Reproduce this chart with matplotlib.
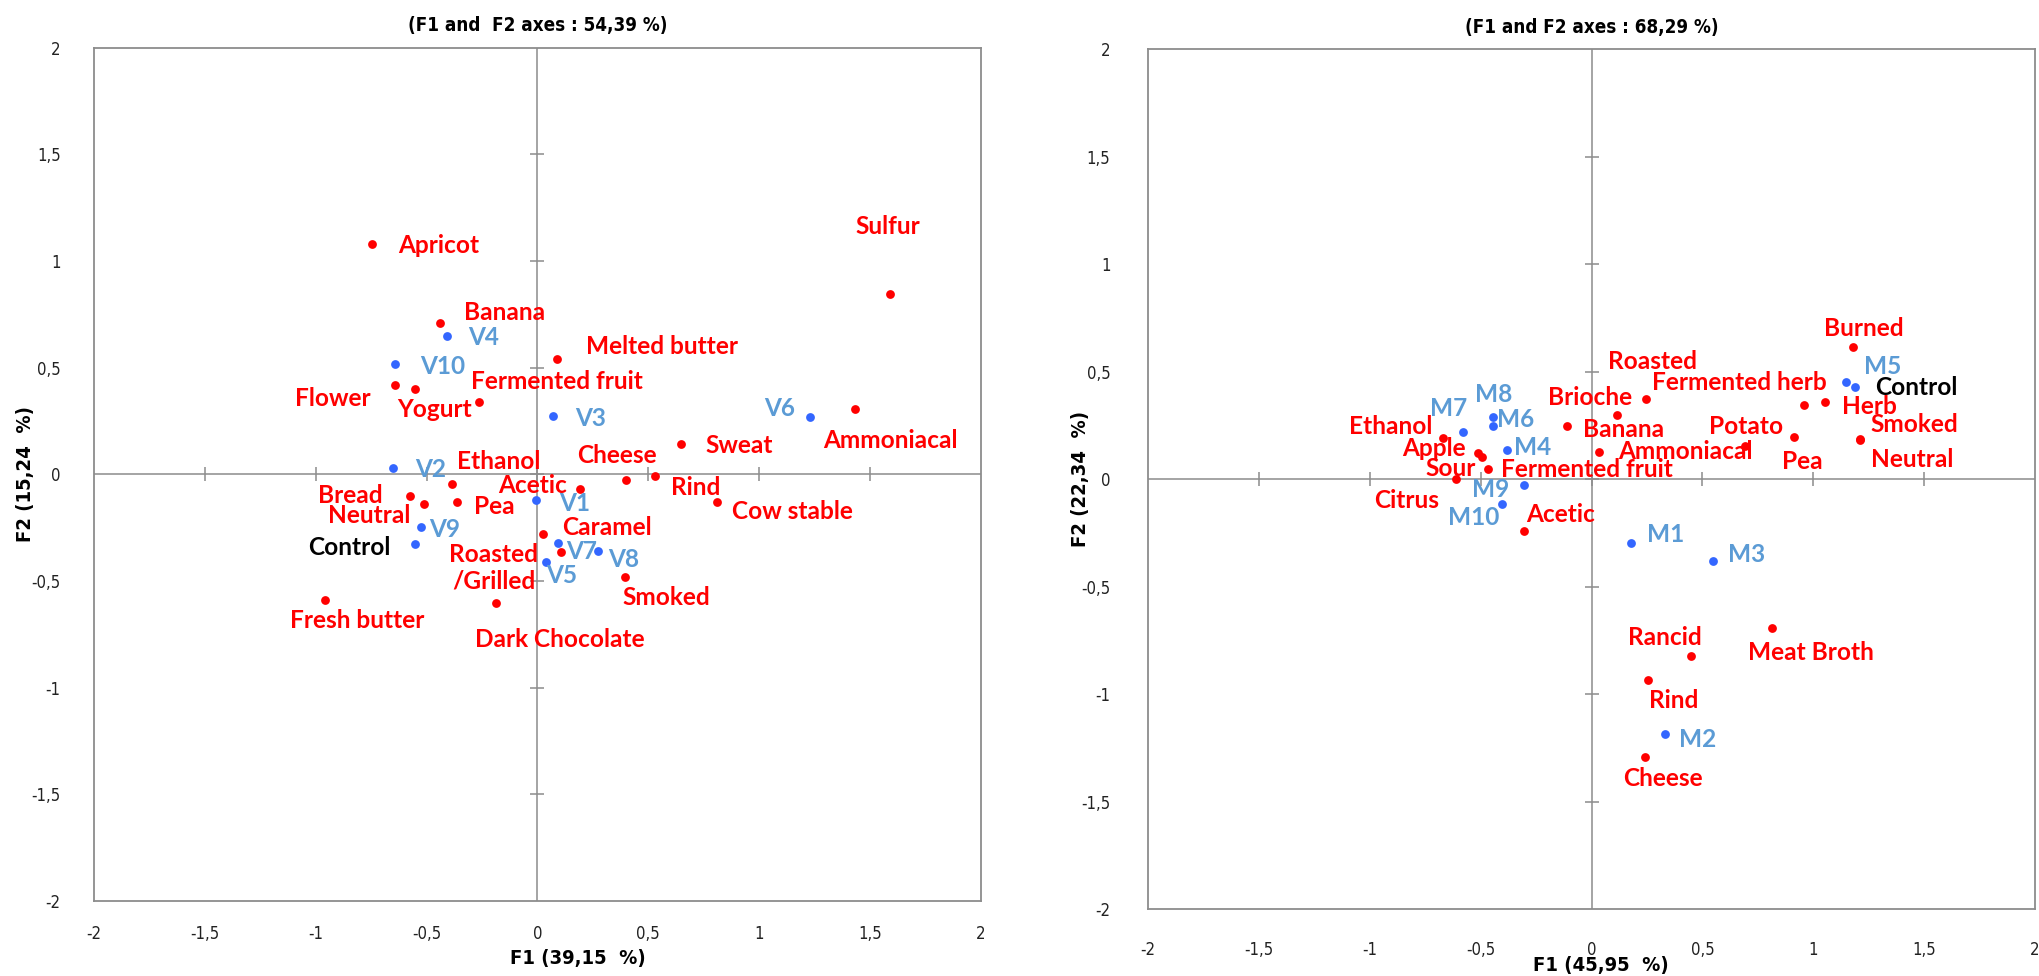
import matplotlib
matplotlib.use("Agg")
import matplotlib.pyplot as plt
from matplotlib.ticker import FuncFormatter, MultipleLocator

# ---- panel 1 : attributes (red) and samples (blue) ----
attr1_names = ["Apricot", "Banana", "Melted butter", "Fermented fruit", "Flower", "Yogurt",
               "Sulfur", "Ammoniacal", "Sweat", "Ethanol", "Cheese", "Rind", "Cow stable",
               "Acetic", "Bread", "Neutral", "Pea", "Caramel", "Roasted\n/Grilled", "Smoked",
               "Fresh butter", "Dark Chocolate"]
attr1_f1 = [-0.745, -0.439, 0.086, -0.266, -0.643, -0.553, 1.588, 1.434, 0.647, -0.387, 0.401,
            0.528, 0.811, 0.190, -0.574, -0.514, -0.364, 0.027, 0.108, 0.393, -0.957, -0.185]
attr1_f2 = [1.078, 0.711, 0.540, 0.338, 0.419, 0.401, 0.844, 0.305, 0.142, -0.044, -0.028,
            -0.006, -0.131, -0.069, -0.100, -0.139, -0.129, -0.280, -0.366, -0.482, -0.591, -0.605]

samp1_names = ["V1", "V2", "V3", "V4", "V5", "V6", "V7", "V8", "V9", "V10"]
samp1_f1 = [-0.005, -0.653, 0.070, -0.409, 0.039, 1.231, 0.093, 0.275, -0.526, -0.641]
samp1_f2 = [-0.120, 0.028, 0.273, 0.649, -0.411, 0.267, -0.323, -0.358, -0.246, 0.516]
ctrl1 = (-0.551, -0.327)

# ---- panel 2 ----
attr2_names = ["Burned", "Fermented herb", "Herb", "Smoked", "Neutral", "Potato", "Pea",
               "Roasted", "Brioche", "Banana", "Ammoniacal", "Fermented fruit", "Sour", "Apple",
               "Ethanol", "Citrus", "Acetic", "Meat Broth", "Rancid", "Rind", "Cheese"]
attr2_f1 = [1.177, 0.957, 1.055, 1.209, 1.212, 0.694, 0.911, 0.247, 0.117, -0.111, 0.032,
            -0.466, -0.494, -0.511, -0.670, -0.611, -0.306, 0.815, 0.450, 0.255, 0.239]
attr2_f2 = [0.616, 0.345, 0.361, 0.187, 0.180, 0.156, 0.198, 0.372, 0.299, 0.245, 0.125,
            0.048, 0.105, 0.121, 0.193, 0.000, -0.240, -0.693, -0.824, -0.936, -1.295]

samp2_names = ["M1", "M2", "M3", "M4", "M5", "M6", "M7", "M8", "M9", "M10"]
samp2_f1 = [0.179, 0.330, 0.549, -0.383, 1.149, -0.445, -0.579, -0.445, -0.306, -0.404]
samp2_f2 = [-0.297, -1.185, -0.383, 0.136, 0.450, 0.245, 0.221, 0.291, -0.029, -0.115]
ctrl2 = (1.187, 0.430)

titles = ["(F1 and  F2 axes : 54,39 %)", "(F1 and F2 axes : 68,29 %)"]
xlabels = ["F1 (39,15  %)", "F1 (45,95  %)"]
ylabels = ["F2 (15,24  %)", "F2 (22,34  %)"]
ticks = [-2, -1.5, -1, -0.5, 0, 0.5, 1, 1.5, 2]

# label offsets in pixels (text centre relative to the dot)
attr1_off = [(66, -1), (64, 10), (105, 13), (78, 21), (-62, -14), (20, -21),
             (-2, 68), (35, -31), (58, -1), (47, 22), (-9, 25), (41, -12), (75, -9),
             (-47, 4), (-60, 0), (-54, -11), (38, -5), (63, 7), (-68, -15), (42, -20),
             (32, -20), (63, -36)]
samp1_off = [(38, -4), (38, -1), (38, -2), (37, -2), (16, -13), (-31, 9), (24, -8),
             (25, -9), (24, -3), (47, -2)]
ctrl1_off = (-66, -3)

attr2_off = [(11, 18), (-64, 22), (44, -5), (55, 14), (52, -19), (1, 19), (9, -25),
             (6, 38), (-27, 17), (57, -3), (87, 1), (99, -1), (-31, -12), (-44, 5),
             (-52, 11), (-49, -21), (37, 16), (39, -24), (-26, 19), (26, -20), (18, -21)]
samp2_off = [(34, 8), (33, -6), (33, 7), (26, 2), (36, 16), (23, 7), (-14, 23),
             (1, 22), (-33, -4), (-28, -14)]
ctrl2_off = (62, -1)

RED = "#FF0000"
BLUE_DOT = "#3366FF"
BLUE_TXT = "#5B9BD5"
GRAY = "#8C8C8C"
LBL_FONT = dict(family=["Lato", "DejaVu Sans"], fontweight="bold", fontsize=17.6)
AX_FONT = dict(family=["DejaVu Sans"], fontstretch="condensed")

fig = plt.figure(figsize=(20.4, 9.76), dpi=100)
ax1 = fig.add_axes([0.04608, 0.07684, 0.43480, 0.87428])
ax2 = fig.add_axes([0.56275, 0.06865, 0.43480, 0.88084])

panels = [
    (ax1, attr1_names, attr1_f1, attr1_f2, attr1_off, samp1_names, samp1_f1, samp1_f2,
     samp1_off, ctrl1, ctrl1_off),
    (ax2, attr2_names, attr2_f1, attr2_f2, attr2_off, samp2_names, samp2_f1, samp2_f2,
     samp2_off, ctrl2, ctrl2_off),
]

comma = FuncFormatter(lambda v, p: f"{v:g}".replace(".", ","))

for i, (ax, an, ax_, ay, aoff, sn, sx, sy, soff, ctrl, coff) in enumerate(panels):
    ax.set_xlim(-2, 2)
    ax.set_ylim(-2, 2)
    for s in ax.spines.values():
        s.set_color(GRAY)
        s.set_linewidth(1.3)

    # zero axes with crossing tick marks
    ax.axhline(0, color=GRAY, lw=1.1, zorder=1)
    ax.axvline(0, color=GRAY, lw=1.1, zorder=1)
    inner = [t for t in ticks if -2 < t < 2]
    ax.plot(inner, [0] * len(inner), ls="none", marker="|", ms=10, mew=1.1, color=GRAY, zorder=1)
    ax.plot([0] * len(inner), inner, ls="none", marker="_", ms=10, mew=1.1, color=GRAY, zorder=1)

    ax.xaxis.set_major_locator(MultipleLocator(0.5))
    ax.yaxis.set_major_locator(MultipleLocator(0.5))
    ax.xaxis.set_major_formatter(comma)
    ax.yaxis.set_major_formatter(comma)
    ax.tick_params(length=0, labelsize=12, colors="#222222")
    ax.tick_params(axis="x", pad=17 if i == 0 else 23)
    ax.tick_params(axis="y", pad=24 if i == 0 else 27)
    for lab in ax.get_xticklabels() + ax.get_yticklabels():
        lab.set_family(AX_FONT["family"])
        lab.set_fontstretch("condensed")

    ax.scatter(ax_, ay, s=40, color=RED, linewidths=0, zorder=3)
    ax.scatter(sx, sy, s=40, color=BLUE_DOT, linewidths=0, zorder=3)
    ax.scatter([ctrl[0]], [ctrl[1]], s=40, color=BLUE_DOT, linewidths=0, zorder=3)

    for n, x, y, o in zip(an, ax_, ay, aoff):
        ax.annotate(n, (x, y), xytext=o, textcoords="offset pixels", ha="center",
                    va="center", color=RED, **LBL_FONT)
    for n, x, y, o in zip(sn, sx, sy, soff):
        ax.annotate(n, (x, y), xytext=o, textcoords="offset pixels", ha="center",
                    va="center", color=BLUE_TXT, **LBL_FONT)
    ax.annotate("Control", ctrl, xytext=coff, textcoords="offset pixels", ha="center",
                va="center", color="black", **LBL_FONT)

    ax.set_title(titles[i], fontweight="bold", fontsize=13.5, pad=12, **AX_FONT)
    ax.set_xlabel(xlabels[i], fontweight="bold", fontsize=14.5, **AX_FONT)
    ax.set_ylabel(ylabels[i], fontweight="bold", fontsize=14.5, **AX_FONT)

ax1.xaxis.set_label_coords(0.545, -0.056)
ax2.xaxis.set_label_coords(0.51, -0.055)
ax1.yaxis.set_label_coords(-0.066, 0.5)
ax2.yaxis.set_label_coords(-0.065, 0.5)

fig.savefig("out.png", dpi=100)
